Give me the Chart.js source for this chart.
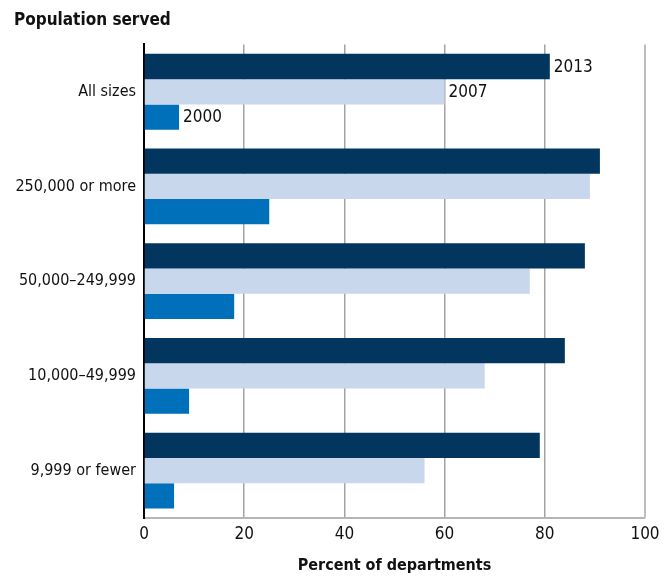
<!DOCTYPE html>
<html>
<head>
<meta charset="utf-8">
<script src="https://cdn.jsdelivr.net/npm/chart.js@4"></script>
<style>
  html, body { margin: 0; padding: 0; background: #fff; }
  #wrap { width: 669px; height: 578px; }
</style>
</head>
<body>
<div id="wrap"><canvas id="popChart" width="669" height="578"></canvas></div>
<script>
const categories = ['All sizes', '250,000 or more', '50,000–249,999', '10,000–49,999', '9,999 or fewer'];
const years = ['2013', '2007', '2000'];
const values2013 = [81, 91, 88, 84, 79];
const values2007 = [60, 89, 77, 68, 56];
const values2000 = [7, 25, 18, 9, 6];
const xTicks = [0, 20, 40, 60, 80, 100];

const colors = ['#02365f', '#c8d7ec', '#0070ba'];
const FONT = '"DejaVu Sans Condensed", "Liberation Sans Narrow", sans-serif';

// year labels next to the bars of the first category only
const yearLabels = {
    id: 'yearLabels',
    afterDatasetsDraw(chart) {
        const c = chart.ctx;
        c.save();
        c.font = '17px ' + FONT;
        c.fillStyle = '#111';
        c.textBaseline = 'middle';
        c.textAlign = 'left';
        chart.data.datasets.forEach((ds, i) => {
            const bar = chart.getDatasetMeta(i).data[0];
            c.fillText(ds.label, bar.x + 4, bar.y + 1);
        });
        c.restore();
    }
};

const ctx = document.getElementById('popChart').getContext('2d');
new Chart(ctx, {
    type: 'bar',
    data: {
        labels: categories,
        datasets: [
            { label: years[0], data: values2013, backgroundColor: colors[0] },
            { label: years[1], data: values2007, backgroundColor: colors[1] },
            { label: years[2], data: values2000, backgroundColor: colors[2] }
        ]
    },
    options: {
        indexAxis: 'y',
        responsive: false,
        animation: false,
        layout: { padding: { left: 14, right: 24, top: 0, bottom: 0 } },
        datasets: {
            bar: { categoryPercentage: 0.8, barPercentage: 1.0 }
        },
        plugins: {
            legend: { display: false },
            tooltip: { enabled: false },
            title: {
                display: true,
                text: 'Population served',
                align: 'start',
                color: '#111',
                font: { family: FONT, size: 17, weight: 'bold' },
                padding: { top: 10, bottom: 14 }
            }
        },
        scales: {
            x: {
                min: 0,
                max: 100,
                afterBuildTicks(scale) {
                    scale.ticks = xTicks.map(v => ({ value: v }));
                },
                afterFit(scale) { scale.height = 60; },
                grid: {
                    drawTicks: false,
                    color: ctx => ctx.index === 5 ? '#bdbdbd' : '#a3a3a3',
                    lineWidth: ctx => ctx.index === 5 ? 2 : 1.5
                },
                border: { color: '#b5b5b5', width: 2 },
                ticks: {
                    color: '#111',
                    padding: 6,
                    font: { family: FONT, size: 17 }
                },
                title: {
                    display: true,
                    text: 'Percent of departments',
                    color: '#111',
                    font: { family: FONT, size: 16, weight: 'bold' },
                    padding: { top: 4, bottom: 3 }
                }
            },
            y: {
                afterFit(scale) { scale.width = 130; },
                grid: { display: false, drawTicks: false },
                border: { color: '#000', width: 2 },
                ticks: {
                    color: '#111',
                    padding: 8,
                    font: { family: FONT, size: 16 }
                }
            }
        }
    },
    plugins: [yearLabels]
});
</script>
</body>
</html>
